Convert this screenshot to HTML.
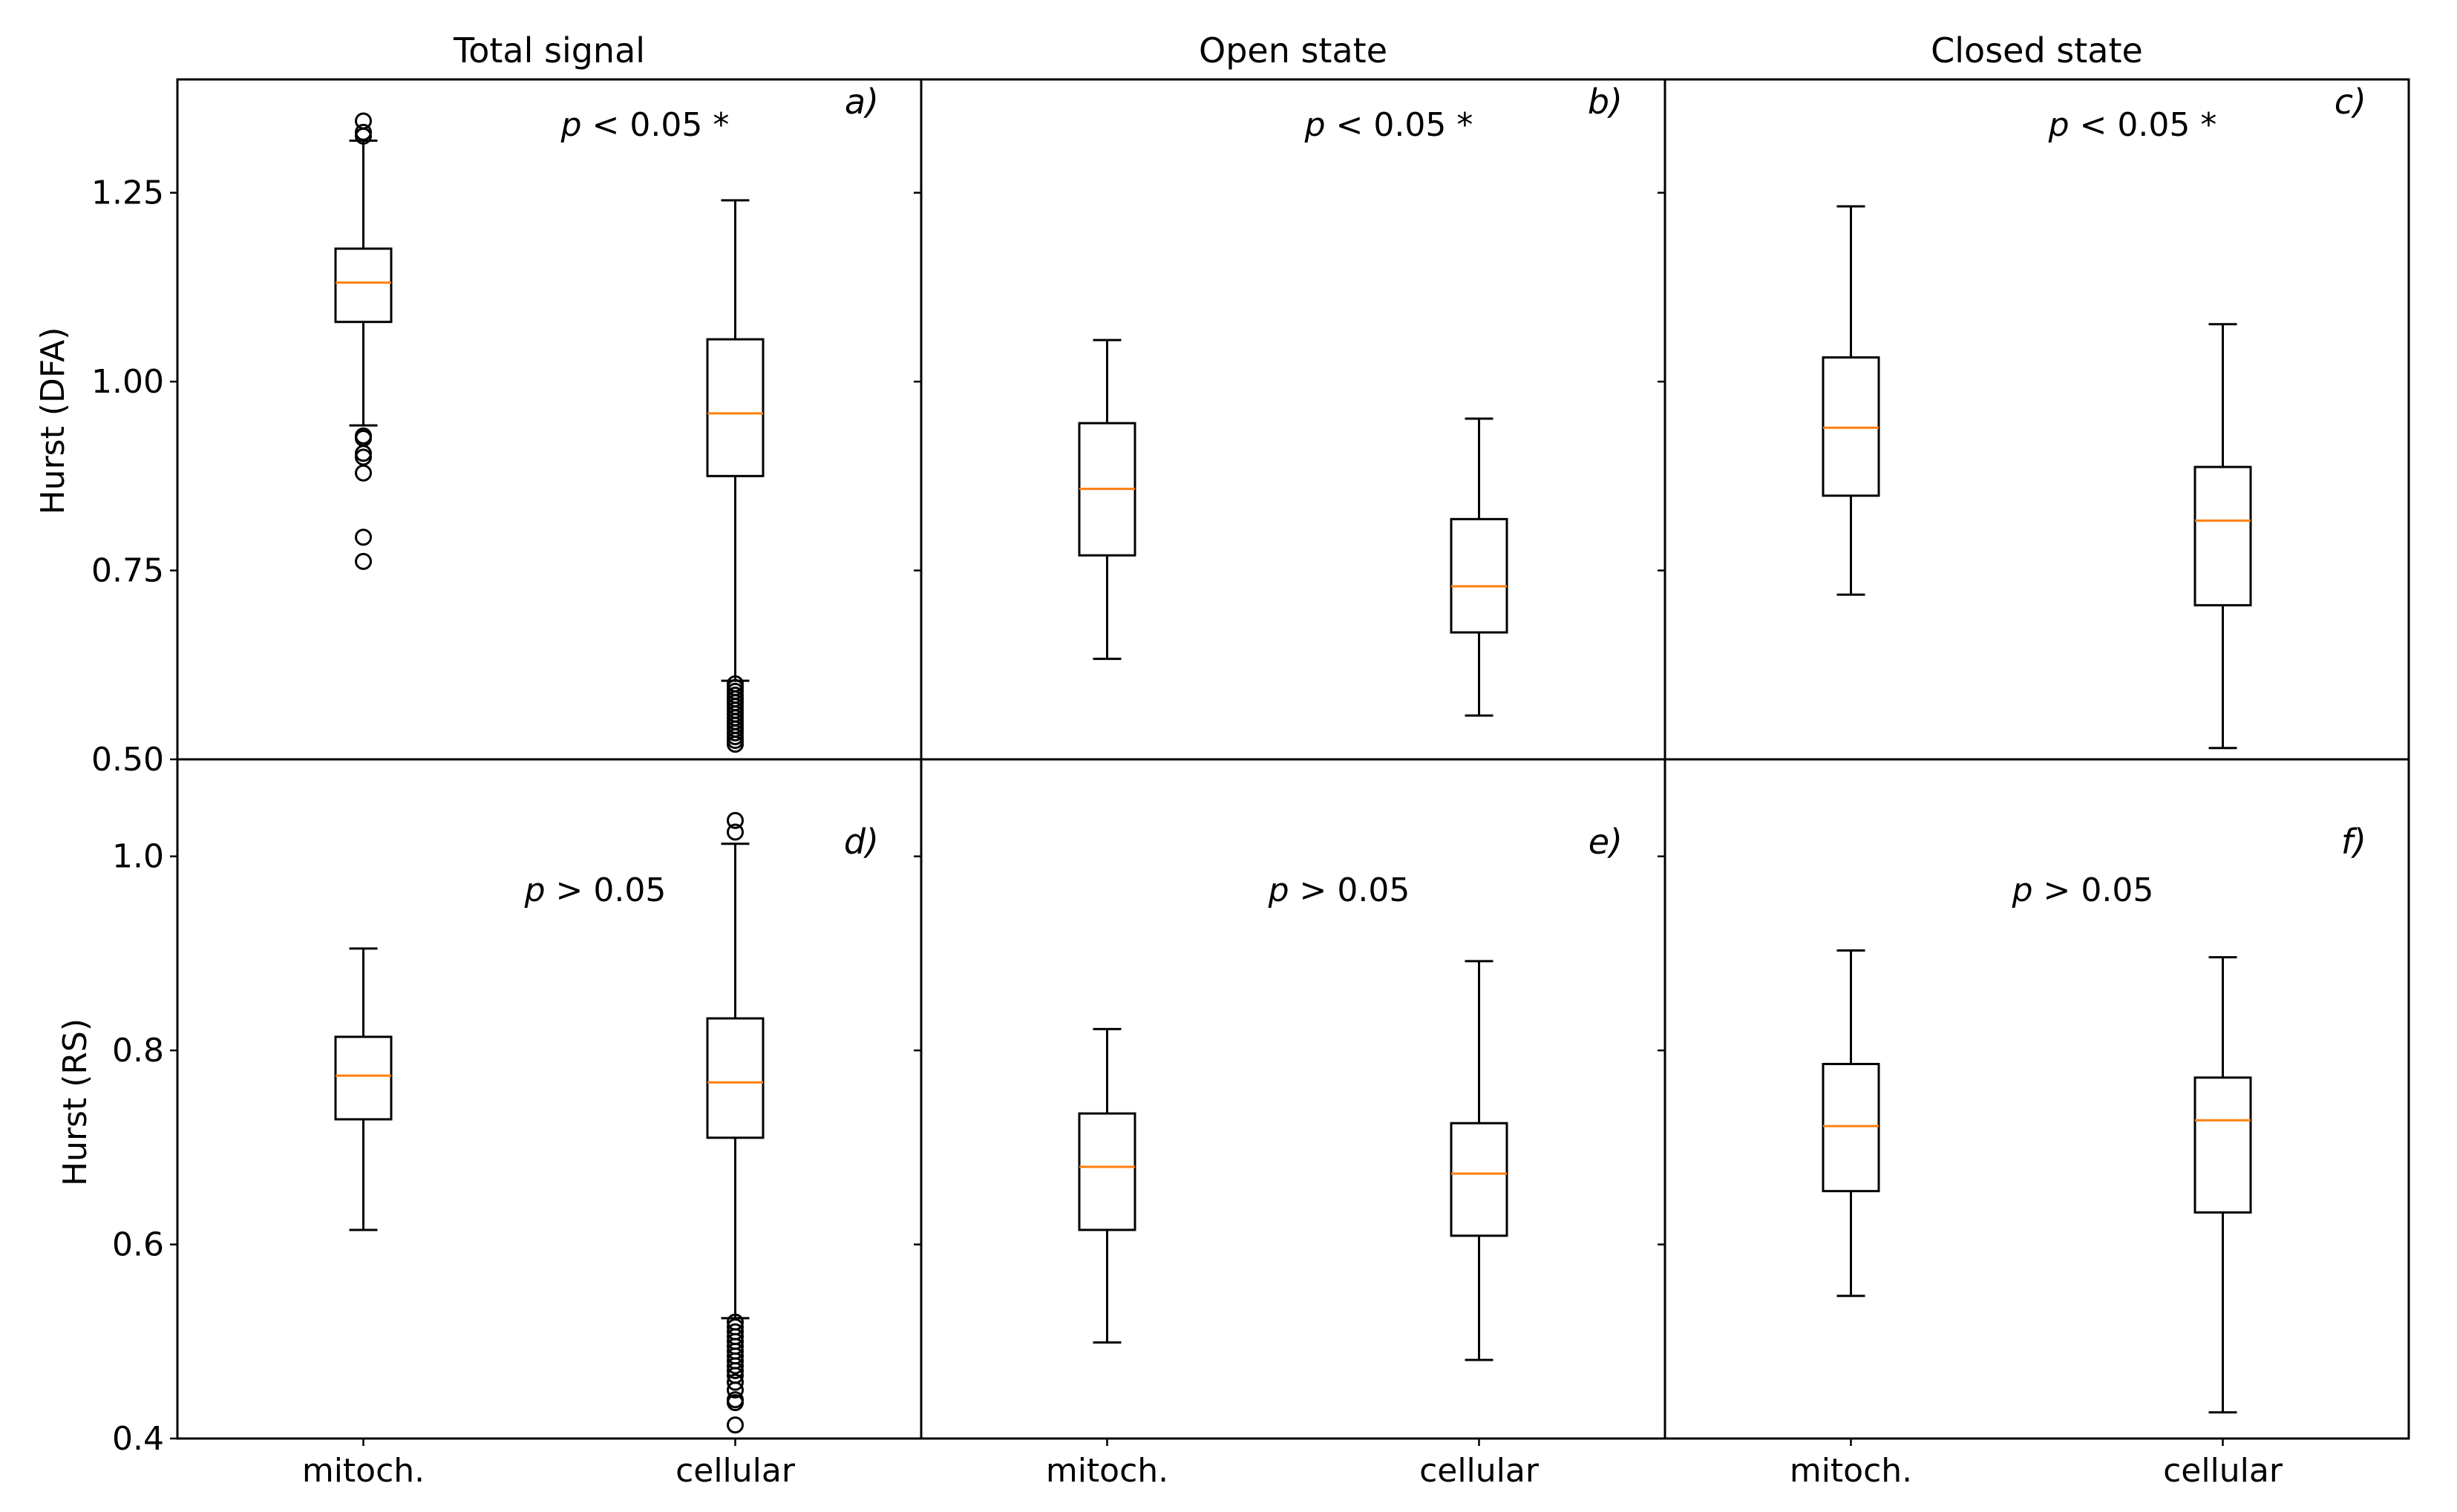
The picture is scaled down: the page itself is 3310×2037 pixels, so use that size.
<!DOCTYPE html>
<html><head><meta charset="utf-8"><style>
html,body{margin:0;padding:0;background:#fff}
svg{display:block}
text{font-family:"DejaVu Sans","Liberation Sans",sans-serif;fill:#000}
</style></head><body>
<svg id="chart" width="3310" height="2037" viewBox="0 0 3310 2037" xmlns="http://www.w3.org/2000/svg"></svg>
<script>
// ---- data ----
const categories = ["mitoch.", "cellular"];
const columnTitles = ["Total signal", "Open state", "Closed state"];
const panelLetters = ["a)", "b)", "c)", "d)", "e)", "f)"];
const pTexts = ["< 0.05 *", "< 0.05 *", "< 0.05 *", "> 0.05", "> 0.05", "> 0.05"];
const rowLabels = ["Hurst (DFA)", "Hurst (RS)"];
const topTicks = [0.50, 0.75, 1.00, 1.25];
const topTickLabels = ["0.50", "0.75", "1.00", "1.25"];
const botTicks = [0.4, 0.6, 0.8, 1.0];
const botTickLabels = ["0.4", "0.6", "0.8", "1.0"];
const topRange = [0.5, 1.4];
const botRange = [0.4, 1.1];
// each box: [lowWhisker, q1, median, q3, highWhisker]
const boxA = [[0.942, 1.079, 1.131, 1.176, 1.319], [0.604, 0.875, 0.958, 1.056, 1.240]];
const boxB = [[0.633, 0.770, 0.858, 0.945, 1.055], [0.558, 0.668, 0.729, 0.818, 0.951]];
const boxC = [[0.718, 0.849, 0.939, 1.032, 1.232], [0.515, 0.704, 0.816, 0.887, 1.076]];
const boxD = [[0.615, 0.729, 0.774, 0.814, 0.905], [0.524, 0.710, 0.767, 0.833, 1.013]];
const boxE = [[0.499, 0.615, 0.680, 0.735, 0.822], [0.481, 0.609, 0.673, 0.725, 0.892]];
const boxF = [[0.547, 0.655, 0.722, 0.786, 0.903], [0.427, 0.633, 0.728, 0.772, 0.896]];
const outA = [[1.345, 1.330, 1.325, 0.928, 0.925, 0.905, 0.900, 0.879, 0.794, 0.762],
              [0.600, 0.595, 0.590, 0.585, 0.580, 0.575, 0.570, 0.565, 0.560, 0.555, 0.550, 0.545, 0.540, 0.535, 0.530, 0.525, 0.520]];
const outD = [[],
              [1.037, 1.025, 0.520, 0.515, 0.510, 0.505, 0.500, 0.495, 0.490, 0.485, 0.480, 0.475, 0.470, 0.465, 0.458, 0.450, 0.440, 0.437, 0.414]];

const boxes = [boxA, boxB, boxC, boxD, boxE, boxF];
const outliers = [outA, [[], []], [[], []], outD, [[], []], [[], []]];

// ---- layout ----
const svg = document.getElementById('chart');
const NS = 'http://www.w3.org/2000/svg';
const X0 = 239, PW = 1002;
const rows = [{top: 107, bot: 1023, range: topRange, ticks: topTicks, labels: topTickLabels},
              {top: 1023, bot: 1938, range: botRange, ticks: botTicks, labels: botTickLabels}];
function el(tag, attrs, text) {
  const e = document.createElementNS(NS, tag);
  for (const k in attrs) e.setAttribute(k, attrs[k]);
  if (text !== undefined) e.textContent = text;
  svg.appendChild(e);
  return e;
}
function yScale(r, v) { const R = rows[r]; return R.bot - (v - R.range[0]) / (R.range[1] - R.range[0]) * (R.bot - R.top); }
function xScale(c, i) { return X0 + c * PW + PW * (0.25 + 0.5 * i); }

const BW = 75, CW = 38;
for (let p = 0; p < 6; p++) {
  const r = Math.floor(p / 3), c = p % 3;
  const R = rows[r];
  const left = X0 + c * PW;
  R.ticks.forEach((t, k) => {
    const y = yScale(r, t);
    let tk = el('line', {x1: left - 10, x2: left, y1: y, y2: y, stroke: '#000', 'stroke-width': 2.5});
    
    
    if (c === 0) {
      let tl = el('text', {x: left - 18, y: y + 15, 'font-size': 44, 'text-anchor': 'end'}, R.labels[k]);
      
      
    }
  });
  if (r === 1) {
    categories.forEach((cat, i) => {
      const x = xScale(c, i);
      let tk = el('line', {x1: x, x2: x, y1: R.bot, y2: R.bot + 10, stroke: '#000', 'stroke-width': 2.5});
      
      
      let tl = el('text', {x: x, y: R.bot + 58, 'font-size': 44, 'text-anchor': 'middle'}, cat);
      
      
    });
  }
  boxes[p].forEach((b, i) => {
    const x = xScale(c, i);
    const [lw, q1, md, q3, hw] = b.map(v => yScale(r, v));
    let w1 = el('line', {x1: x, x2: x, y1: q1, y2: lw, stroke: '#000', 'stroke-width': 3});
    
    
    let w2 = el('line', {x1: x, x2: x, y1: q3, y2: hw, stroke: '#000', 'stroke-width': 3});
    
    
    let c1 = el('line', {x1: x - CW / 2, x2: x + CW / 2, y1: lw, y2: lw, stroke: '#000', 'stroke-width': 3});
    
    
    let c2 = el('line', {x1: x - CW / 2, x2: x + CW / 2, y1: hw, y2: hw, stroke: '#000', 'stroke-width': 3});
    
    
    let bx = el('rect', {x: x - BW / 2, y: q3, width: BW, height: q1 - q3, fill: 'none', stroke: '#000', 'stroke-width': 3});
    
    
    let ml = el('line', {x1: x - BW / 2, x2: x + BW / 2, y1: md, y2: md, stroke: '#ff7f0e', 'stroke-width': 3});
    
    
    outliers[p][i].forEach(v => {
      let o = el('circle', {cx: x, cy: yScale(r, v), r: 10, fill: 'none', stroke: '#000', 'stroke-width': 3});
      
      
    });
  });
  const pxc = left + (r === 0 ? 630 : 563);
  const py = r === 0 ? 183 : 1214;
  const pt = el('text', {x: pxc, y: py, 'font-size': 44, 'text-anchor': 'middle'});
  
  
  const ts1 = document.createElementNS(NS, 'tspan'); ts1.setAttribute('font-style', 'italic'); ts1.textContent = 'p ';
  const ts2 = document.createElementNS(NS, 'tspan'); ts2.textContent = pTexts[p];
  pt.appendChild(ts1); pt.appendChild(ts2);
  const lt = el('text', {x: left + 945, y: r === 0 ? 153 : 1150, 'font-size': 46, 'text-anchor': 'end', 'font-style': 'italic'}, panelLetters[p]);
  
  
  const fr = el('rect', {x: left, y: R.top, width: PW, height: R.bot - R.top, fill: 'none', stroke: '#000', 'stroke-width': 3});
  
  
  if (r === 0) {
    const tt = el('text', {x: left + PW / 2, y: 84, 'font-size': 46, 'text-anchor': 'middle'}, columnTitles[c]);
    
    
  }
}
const yl1 = el('text', {x: 0, y: 0, 'font-size': 44, 'text-anchor': 'middle', transform: 'translate(86,567) rotate(-90)'}, rowLabels[0]);


const yl2 = el('text', {x: 0, y: 0, 'font-size': 44, 'text-anchor': 'middle', transform: 'translate(116,1485) rotate(-90)'}, rowLabels[1]);


</script>
</body></html>
